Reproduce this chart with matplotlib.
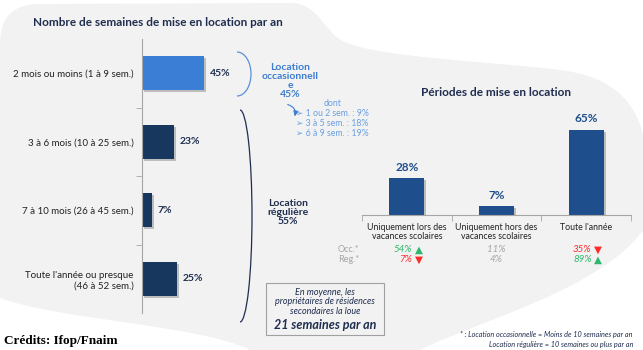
import matplotlib
matplotlib.use("Agg")
import matplotlib.pyplot as plt
from matplotlib.path import Path
from matplotlib import patches
import matplotlib.patheffects as pe

# data
semaines_labels = ["2 mois ou moins (1 à 9 sem.)", "3 à 6 mois (10 à 25 sem.)",
                   "7 à 10 mois (26 à 45 sem.)", "Toute l'année ou presque\n(46 à 52 sem.)"]
semaines_values = [45, 23, 7, 25]

periodes_labels = ["Uniquement lors des\nvacances scolaires", "Uniquement hors des\nvacances scolaires",
                   "Toute l'année"]
periodes_values = [28, 7, 65]

occ_values = [54, 11, 35]
reg_values = [7, 4, 89]
occ_trend = ["up", None, "down"]
reg_trend = ["down", None, "up"]

dont_labels = ["1 ou 2 sem. : 9%", "3 à 5 sem. : 18%", "6 à 9 sem. : 19%"]

W, H = 643, 350
NAVY = "#1f2d4f"
DARK_BAR = "#17375e"
LIGHT_BAR = "#3a7fd5"
RIGHT_BAR = "#1f4e8c"
OCC_BLUE = "#3c7dd0"
GRAY_TXT = "#a6a6a6"
GREEN = "#2eb86b"
RED = "#ff2a2a"
FONT = ["Lato", "DejaVu Sans"]


def fx(x):
    return x / W


def fy(y):
    return 1 - y / H


def fig_text(x, y, s, **kw):
    kw.setdefault("family", FONT)
    kw.setdefault("va", "center")
    fig.text(fx(x), fy(y), s, **kw)


fig = plt.figure(figsize=(W / 100, H / 100), dpi=100)
fig.patch.set_facecolor("white")

# grey background blob
pts = [(0, 45), (0, 15), (15, 4), (40, 4), (290, 3), (320, 3), (325, 35), (345, 42),
       (380, 58), (500, 62), (560, 70), (610, 76), (635, 100), (643, 135), (643, 230),
       (600, 290), (480, 320), (420, 350), (250, 350), (200, 325), (60, 320), (0, 298), (0, 45)]
codes = [Path.MOVETO, Path.CURVE4, Path.CURVE4, Path.CURVE4, Path.LINETO,
         Path.CURVE4, Path.CURVE4, Path.CURVE4, Path.CURVE4, Path.CURVE4, Path.CURVE4,
         Path.CURVE4, Path.CURVE4, Path.CURVE4, Path.LINETO, Path.CURVE4, Path.CURVE4,
         Path.CURVE4, Path.LINETO, Path.CURVE4, Path.CURVE4, Path.CURVE4, Path.CLOSEPOLY]
blob = Path([(fx(x), fy(y)) for x, y in pts], codes)
fig.add_artist(patches.PathPatch(blob, transform=fig.transFigure, facecolor="#f2f2f2",
                                 edgecolor="none", zorder=0))

shadow = [pe.SimplePatchShadow(offset=(1.5, -1.5), shadow_rgbFace="#9a9a9a", alpha=0.6), pe.Normal()]

# left chart: weeks per year
ax1 = fig.add_axes([fx(142), fy(313), 138 / W, 274 / H])
ax1.patch.set_alpha(0)
colors = [LIGHT_BAR] + [DARK_BAR] * 3
bars = ax1.barh(range(len(semaines_values)), semaines_values, height=0.5, color=colors)
for b in bars:
    b.set_path_effects(shadow)
ax1.set_xlim(0, 100)
ax1.set_ylim(3.5, -0.5)
for s in ["top", "right", "bottom"]:
    ax1.spines[s].set_visible(False)
ax1.spines["left"].set_color("#a6a6a6")
ax1.set_xticks([])
ax1.set_yticks(range(len(semaines_labels)))
ax1.set_yticklabels(semaines_labels, fontsize=7, family=FONT, color="#222222")
ax1.tick_params(axis="y", length=0, pad=6)
ax1.set_yticks([0.5, 1.5, 2.5], minor=True)
ax1.tick_params(axis="y", which="minor", length=4, color="#a6a6a6")
for i, v in enumerate(semaines_values):
    ax1.text(v + 4.5, i, f"{v}%", va="center", ha="left", fontsize=7.5,
             fontweight="bold", color=NAVY, family=FONT)

fig_text(158, 23, "Nombre de semaines de mise en location par an", ha="center",
         fontsize=8.5, fontweight="bold", color=NAVY)

# braces
fig.add_artist(patches.Arc((fx(237), fy(74)), 28 / W, 44 / H, theta1=-90, theta2=90,
                           transform=fig.transFigure, color="#5b8fd6", lw=0.9))
fig.add_artist(patches.Arc((fx(240), fy(216)), 24 / W, 212 / H, theta1=-90, theta2=90,
                           transform=fig.transFigure, color=NAVY, lw=0.9))

fig_text(290, 81, "Location\noccasionnell\ne\n45%", ha="center", fontsize=7.5,
         fontweight="bold", color=OCC_BLUE, linespacing=1.0)
fig.add_artist(patches.FancyArrowPatch((fx(285), fy(104)), (fx(294), fy(119)),
                                       transform=fig.transFigure,
                                       connectionstyle="arc3,rad=-0.6",
                                       arrowstyle="-|>,head_length=3,head_width=1.5",
                                       color=OCC_BLUE, lw=0.8))
fig_text(333, 104, "dont", ha="center", fontsize=6.3, color="#6a9fe0")
for i, lab in enumerate(dont_labels):
    fig_text(296, 114 + i * 9.7, "➢ " + lab, ha="left", fontsize=6.3, color="#6a9fe0")

fig_text(288, 212, "Location\nrégulière\n55%", ha="center", fontsize=7.5,
         fontweight="bold", color=NAVY, linespacing=1.0)

# average box
fig.add_artist(patches.Rectangle((fx(266), fy(335)), 118 / W, 52 / H, transform=fig.transFigure,
                                 facecolor="#f2f2f2", edgecolor="#a0a0a0", lw=0.8))
fig_text(325, 302, "En moyenne, les\npropriétaires de résidences\nsecondaires la loue",
         ha="center", fontsize=6.5, style="italic", color=NAVY, linespacing=1.05)
fig_text(325, 325, "21 semaines par an", ha="center", fontsize=9, style="italic",
         fontweight="bold", color=NAVY)

# right chart: rental periods
ax2 = fig.add_axes([fx(362), fy(215), 269 / W, 105 / H])
ax2.patch.set_alpha(0)
bars2 = ax2.bar(range(len(periodes_values)), periodes_values, width=0.39, color=RIGHT_BAR)
for b in bars2:
    b.set_path_effects(shadow)
ax2.set_xlim(-0.5, 2.5)
ax2.set_ylim(0, 80)
for s in ["top", "right", "left"]:
    ax2.spines[s].set_visible(False)
ax2.spines["bottom"].set_color("#a6a6a6")
ax2.set_yticks([])
ax2.set_xticks(range(len(periodes_labels)))
ax2.set_xticklabels(periodes_labels, fontsize=6.3, family=FONT, color="#222222",
                    linespacing=1.0)
ax2.tick_params(axis="x", length=0, pad=6)
ax2.set_xticks([-0.5, 0.5, 1.5, 2.5], minor=True)
ax2.tick_params(axis="x", which="minor", length=4, color="#a6a6a6")
for i, v in enumerate(periodes_values):
    ax2.text(i, v + 4, f"{v}%", ha="center", va="bottom", fontsize=8.5,
             fontweight="bold", color=RIGHT_BAR, family=FONT)

fig_text(496, 92, "Périodes de mise en location", ha="center", fontsize=8.5,
         fontweight="bold", color=NAVY)

# occasional / regular breakdown
fig_text(338, 250, "Occ.*", ha="left", fontsize=6.5, color=GRAY_TXT)
fig_text(338, 260, "Reg.*", ha="left", fontsize=6.5, color=GRAY_TXT)
trans = ax2.get_xaxis_transform()
for row_y, vals, trends in [(250, occ_values, occ_trend), (260, reg_values, reg_trend)]:
    ay = (215 - row_y) / 105
    for i, (v, t) in enumerate(zip(vals, trends)):
        if t is None:
            ax2.text(i, ay, f"{v}%", ha="center", va="center", fontsize=7, style="italic",
                     color=GRAY_TXT, family=FONT, transform=trans)
            continue
        c = GREEN if t == "up" else RED
        ax2.text(i + 0.06, ay, f"{v}%", ha="right", va="center", fontsize=7, style="italic",
                 color=c, family=FONT, transform=trans)
        ax2.text(i + 0.09, ay, "▲" if t == "up" else "▼", ha="left", va="center",
                 fontsize=7.5, color=c, family="DejaVu Sans", transform=trans)

# footnotes
fig_text(633, 334, "* : Location occasionnelle = Moins de 10 semaines par an", ha="right",
         fontsize=5.2, style="italic", color=NAVY)
fig_text(633, 344, "Location régulière = 10 semaines ou plus par an", ha="right",
         fontsize=5.2, style="italic", color=NAVY)
fig_text(4, 341, "Crédits: Ifop/Fnaim", ha="left", fontsize=9.5, fontweight="bold",
         family="Liberation Serif", color="black")

fig.savefig("out.png", dpi=100)
